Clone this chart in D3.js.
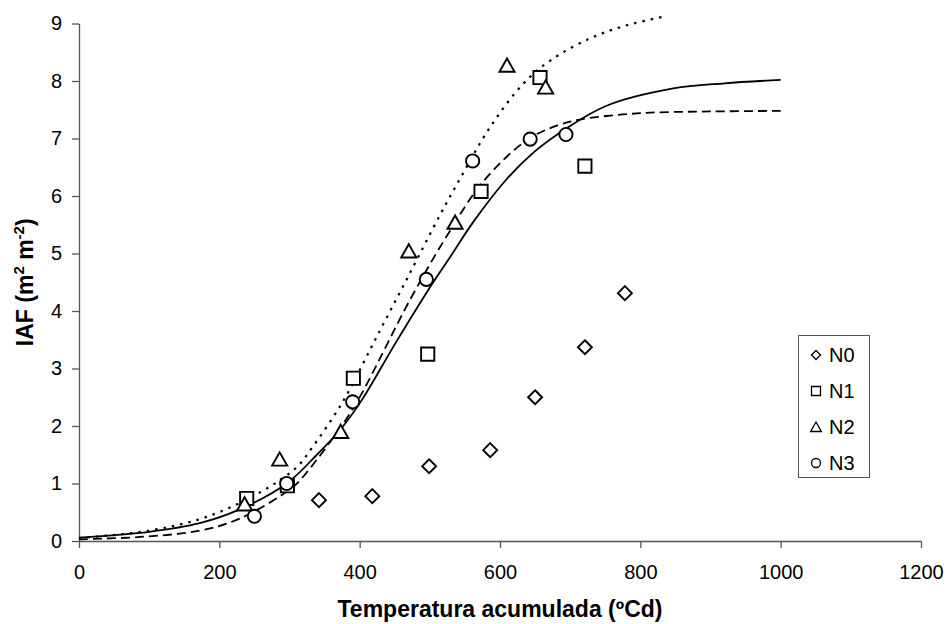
<!DOCTYPE html>
<html>
<head>
<meta charset="utf-8">
<script src="https://cdn.jsdelivr.net/npm/d3@7"></script>
<style>
  html, body { margin: 0; padding: 0; background: #fff; }
  svg { display: block; font-family: "Liberation Sans", Arial, sans-serif; }
</style>
</head>
<body>
<svg id="chart" width="947" height="624"></svg>
<script>
// ---- data ----
const xTicks = [0, 200, 400, 600, 800, 1000, 1200];
const yTicks = [0, 1, 2, 3, 4, 5, 6, 7, 8, 9];

const seriesNames = ["N0", "N1", "N2", "N3"];

const n0X = [342, 418, 499, 586, 650, 721, 778];
const n0Y = [0.71, 0.78, 1.30, 1.58, 2.50, 3.37, 4.31];

const n1X = [239, 297, 391, 497, 573, 657, 721];
const n1Y = [0.74, 0.96, 2.83, 3.25, 6.08, 8.06, 6.52];

const n2X = [236, 286, 373, 470, 536, 610, 665];
const n2Y = [0.64, 1.42, 1.90, 5.04, 5.54, 8.27, 7.89];

const n3X = [250, 296, 390, 495, 561, 643, 694];
const n3Y = [0.43, 1.00, 2.42, 4.55, 6.61, 6.99, 7.07];

// fitted curves (read as points along each line)
const solidX = [0, 100, 172, 229, 296, 339, 372, 403, 450, 498, 529, 562, 610, 650, 695, 752, 847, 920, 1000];
const solidY = [0.06, 0.16, 0.31, 0.55, 1.00, 1.50, 1.93, 2.45, 3.42, 4.37, 4.94, 5.55, 6.30, 6.78, 7.18, 7.57, 7.87, 7.96, 8.02];

const dashedX = [0, 87, 172, 229, 305, 325, 377, 400, 472, 524, 576, 638, 680, 714, 800, 900, 1000];
const dashedY = [0.03, 0.07, 0.18, 0.39, 0.94, 1.20, 2.05, 2.50, 4.20, 5.30, 6.25, 6.97, 7.22, 7.33, 7.44, 7.47, 7.48];

const dottedX = [0, 100, 182, 260, 310, 332, 363, 382, 420, 467, 515, 543, 586, 633, 671, 728, 781, 838];
const dottedY = [0.05, 0.18, 0.42, 0.86, 1.28, 1.62, 2.17, 2.55, 3.45, 4.55, 5.68, 6.30, 7.20, 7.95, 8.35, 8.74, 8.97, 9.13];

// ---- layout ----
const svg = d3.select("#chart");
const mLeft = 79, mRight = 921, mTop = 23.5, mBottom = 541;

const x = d3.scaleLinear().domain([0, 1200]).range([mLeft, mRight]);
const y = d3.scaleLinear().domain([0, 9]).range([mBottom, mTop]);

const axisColor = "#555";

// axes
const gx = svg.append("g").attr("transform", `translate(0,${mBottom})`)
  .call(d3.axisBottom(x).tickValues(xTicks).tickFormat(d3.format("d"))
    .tickSize(7).tickSizeOuter(0).tickPadding(17));
const gy = svg.append("g").attr("transform", `translate(${mLeft},0)`)
  .call(d3.axisLeft(y).tickValues(yTicks).tickFormat(d3.format("d"))
    .tickSize(7).tickSizeOuter(0).tickPadding(10));
[gx, gy].forEach(g => {
  g.select(".domain").attr("stroke", axisColor).attr("stroke-width", 1.3);
  g.selectAll(".tick line").attr("stroke", axisColor).attr("stroke-width", 1.3);
  g.selectAll(".tick text").attr("fill", "#000").style("font-size", "20px")
    .style("font-family", "'Liberation Sans', Arial, sans-serif");
});

// titles
svg.append("text")
  .attr("x", (mLeft + mRight) / 2).attr("y", 617)
  .attr("text-anchor", "middle")
  .style("font-size", "23px").style("font-weight", "bold")
  .text("Temperatura acumulada (ºCd)");

const yt = svg.append("text")
  .attr("transform", `translate(33,${(mTop + mBottom) / 2}) rotate(-90)`)
  .attr("text-anchor", "middle")
  .style("font-size", "23px").style("font-weight", "bold");
yt.append("tspan").text("IAF (m");
yt.append("tspan").attr("dy", -9).style("font-size", "15px").text("2");
yt.append("tspan").attr("dy", 9).text(" m");
yt.append("tspan").attr("dy", -9).style("font-size", "15px").text("-2");
yt.append("tspan").attr("dy", 9).text(")");

// curves
const line = d3.line().x(d => x(d[0])).y(d => y(d[1])).curve(d3.curveCatmullRom.alpha(0.5));
const zipPts = (xs, ys) => xs.map((v, i) => [v, ys[i]]);

svg.append("path").datum(zipPts(solidX, solidY)).attr("d", line)
  .attr("fill", "none").attr("stroke", "#000").attr("stroke-width", 1.8);
svg.append("path").datum(zipPts(dashedX, dashedY)).attr("d", line)
  .attr("fill", "none").attr("stroke", "#000").attr("stroke-width", 1.8)
  .attr("stroke-dasharray", "9,5");
svg.append("path").datum(zipPts(dottedX, dottedY)).attr("d", line)
  .attr("fill", "none").attr("stroke", "#000").attr("stroke-width", 2.2)
  .attr("stroke-dasharray", "2.5,6");

// marker shapes
function shapePath(kind, h) {
  const p = d3.path();
  if (kind === "diamond") {
    p.moveTo(0, -h); p.lineTo(h, 0); p.lineTo(0, h); p.lineTo(-h, 0); p.closePath();
  } else if (kind === "square") {
    p.rect(-h, -h, 2 * h, 2 * h);
  } else if (kind === "triangle") {
    p.moveTo(0, -h); p.lineTo(h * 1.08, h * 0.9); p.lineTo(-h * 1.08, h * 0.9); p.closePath();
  } else {
    p.arc(0, 0, h, 0, 2 * Math.PI);
  }
  return p.toString();
}
const kinds = ["diamond", "square", "triangle", "circle"];
const sizes = [7, 6.6, 7, 6.6];
const dataX = [n0X, n1X, n2X, n3X];
const dataY = [n0Y, n1Y, n2Y, n3Y];

dataX.forEach((xs, s) => {
  svg.append("g").selectAll("path").data(zipPts(xs, dataY[s])).join("path")
    .attr("transform", d => `translate(${x(d[0])},${y(d[1])})`)
    .attr("d", shapePath(kinds[s], sizes[s]))
    .attr("fill", "#fff").attr("stroke", "#000").attr("stroke-width", 1.9);
});

// legend
const lg = svg.append("g");
lg.append("rect").attr("x", 798.5).attr("y", 335.5).attr("width", 71).attr("height", 142)
  .attr("fill", "#fff").attr("stroke", "#555").attr("stroke-width", 1);
const legSizes = [4.5, 4.5, 5, 4.5];
seriesNames.forEach((name, i) => {
  const cy = 355 + i * 36;
  lg.append("path").attr("transform", `translate(816,${cy})`)
    .attr("d", shapePath(kinds[i], legSizes[i]))
    .attr("fill", "#fff").attr("stroke", "#000").attr("stroke-width", 1.3);
  lg.append("text").attr("x", 829).attr("y", cy + 7)
    .style("font-size", "20px").text(name);
});
</script>
</body>
</html>
